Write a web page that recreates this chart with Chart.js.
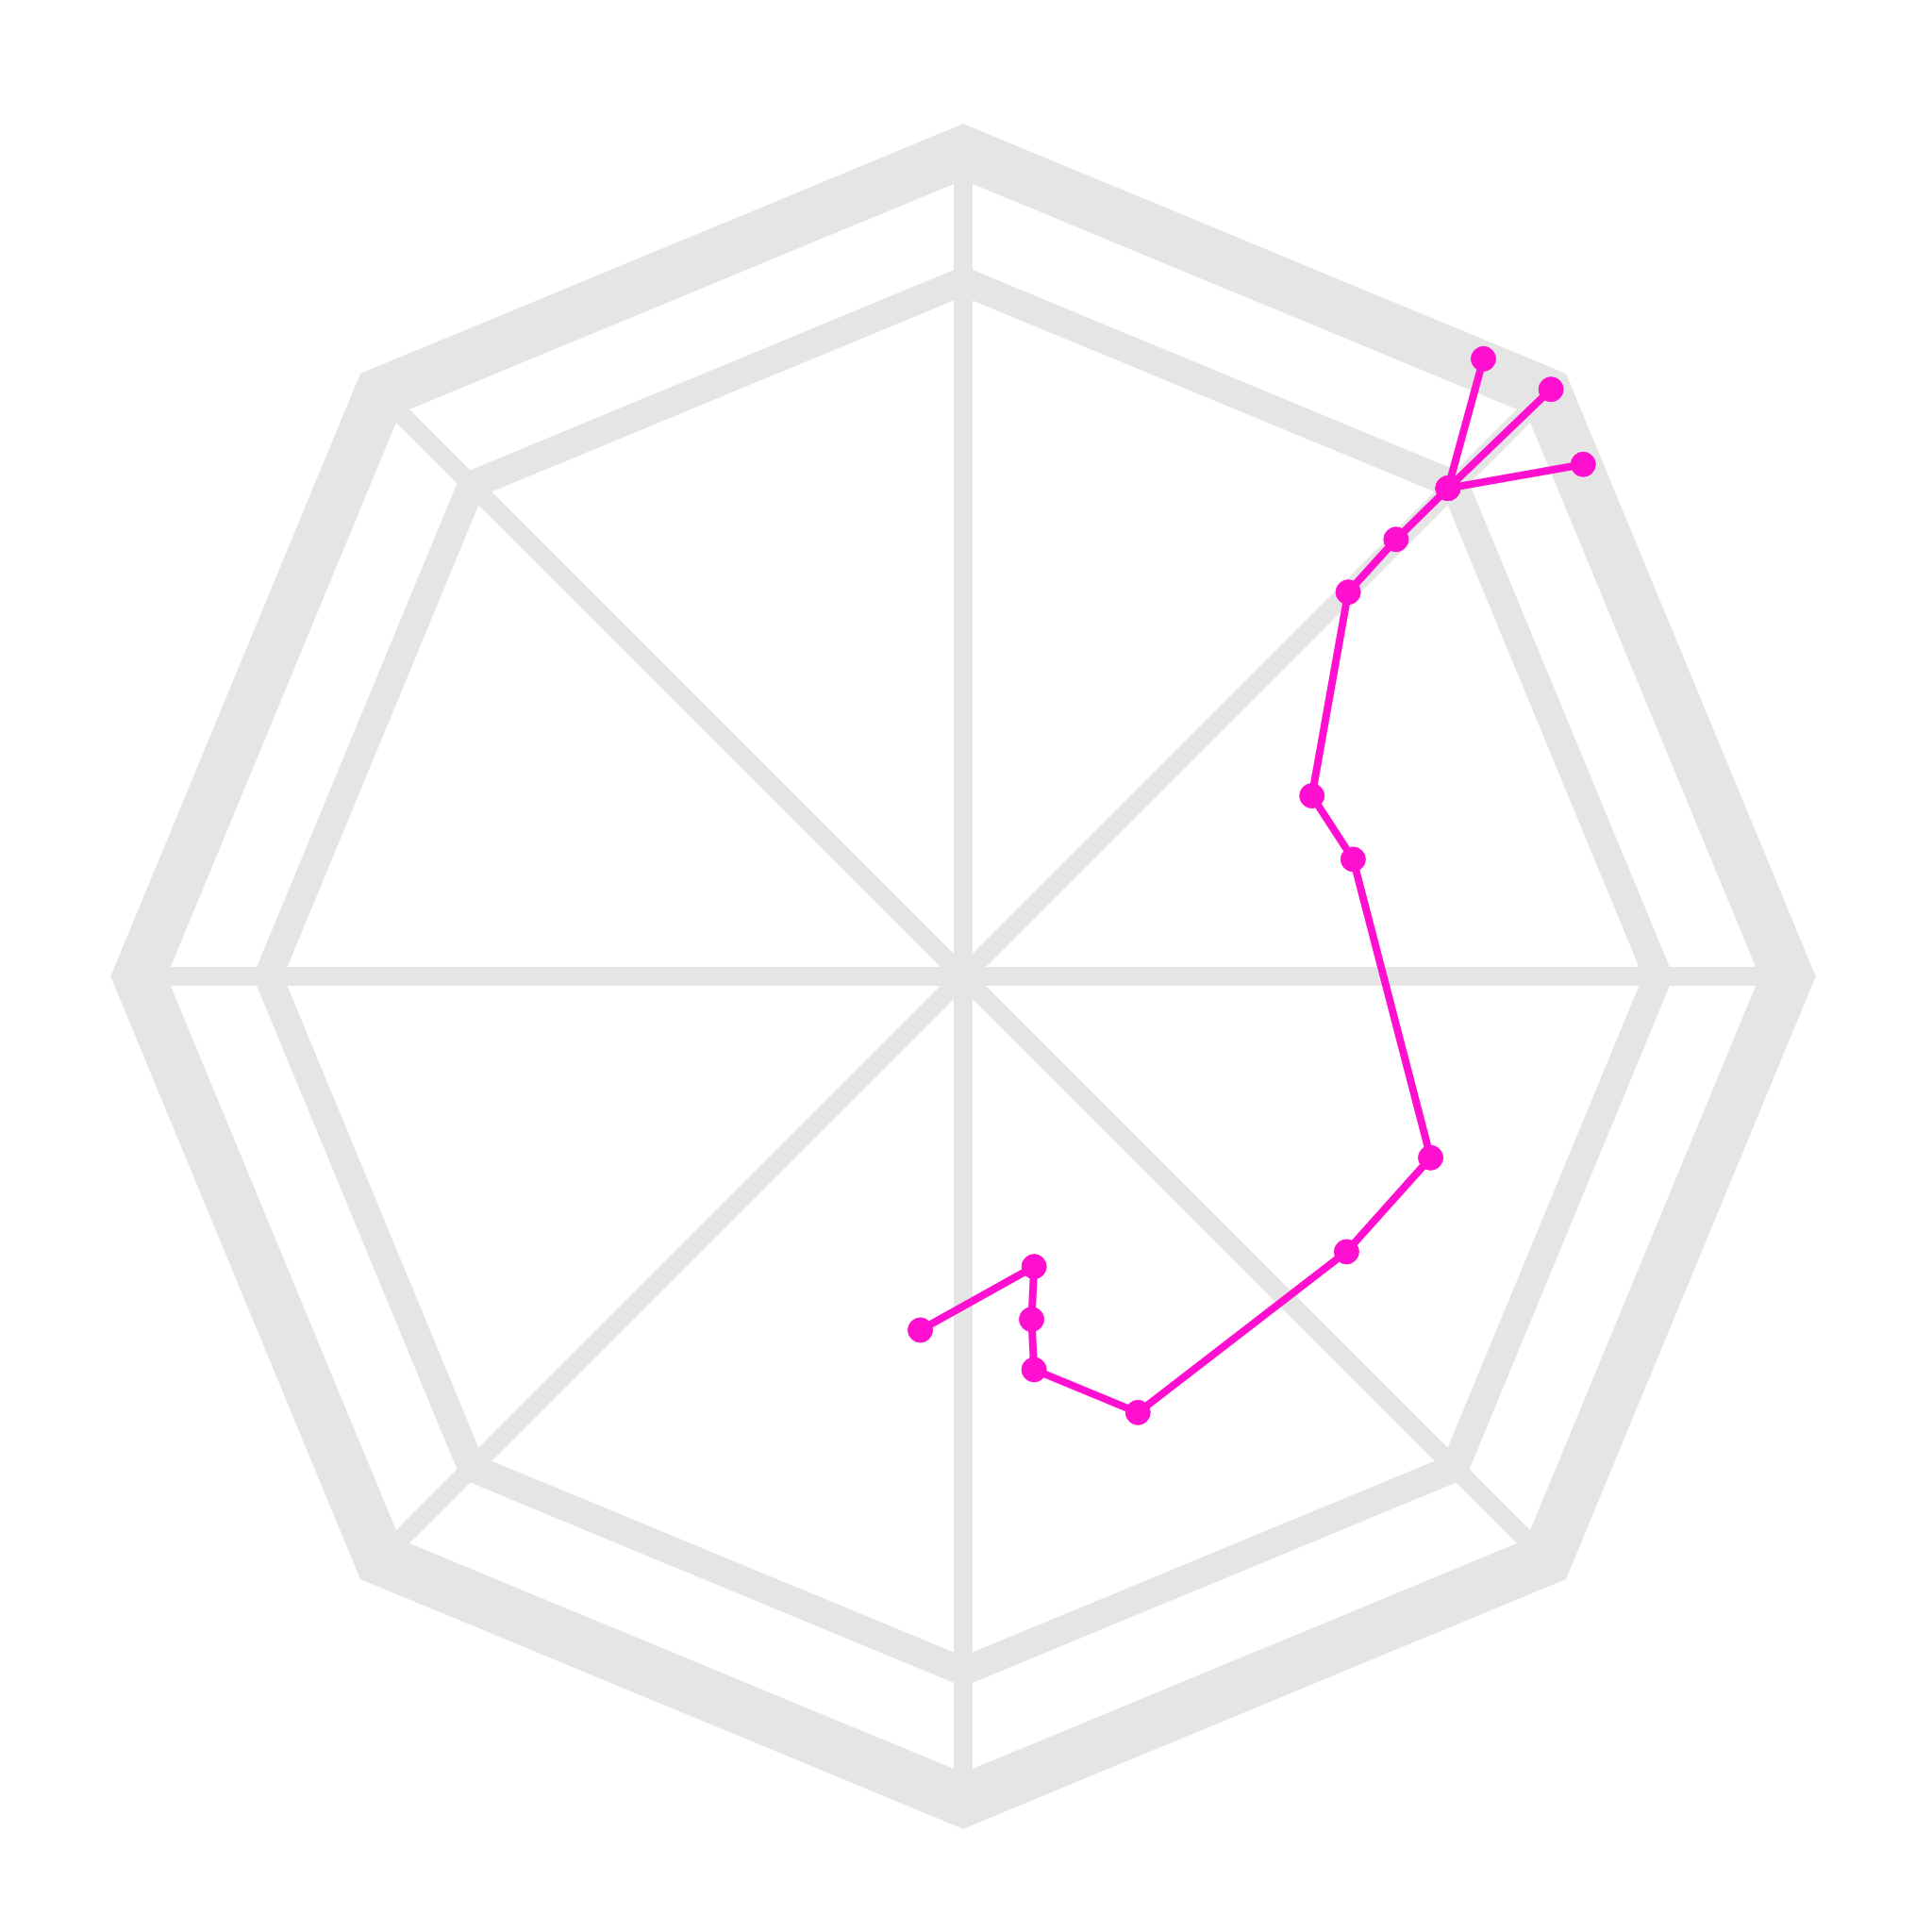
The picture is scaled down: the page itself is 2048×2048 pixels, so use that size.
<!DOCTYPE html>
<html>
<head>
<meta charset="utf-8">
<script src="https://cdn.jsdelivr.net/npm/chart.js@4"></script>
<style>
    html, body { margin: 0; padding: 0; background: #ffffff; }
</style>
</head>
<body>
<canvas id="myChart" width="2048" height="2048"></canvas>
<script>
// Eight spokes of the octagon frame, no label text on them
const spokes = ['', '', '', '', '', '', '', ''];

// Radial values that get a ring: centre, inner ring, outer frame
const ringValues = [0, 0.843, 1];

// The wandering path, same units as the rings (frame = 1)
const pathX = [-0.052, 0.086, 0.083, 0.086, 0.212, 0.465, 0.567, 0.473, 0.423, 0.467, 0.525, 0.588, 0.631, 0.588, 0.713, 0.588, 0.752];
const pathY = [-0.429, -0.352, -0.416, -0.477, -0.529, -0.334, -0.220, 0.142, 0.219, 0.466, 0.530, 0.592, 0.749, 0.592, 0.712, 0.592, 0.621];

const gridGrey = '#e5e5e5';
const magenta = '#ff10d0';

//Create the chart
function createChart() {
    const points = pathX.map((x, i) => ({ x: x, y: pathY[i] }));

    const ctx = document.getElementById('myChart').getContext('2d');
    new Chart(ctx, {
        type: 'scatter',
        data: {
            labels: spokes,
            datasets: [{
                label: 'path',
                data: points,
                showLine: true,
                borderColor: magenta,
                borderWidth: 8,
                borderCapStyle: 'round',
                borderJoinStyle: 'round',
                backgroundColor: magenta,
                pointBackgroundColor: magenta,
                pointBorderColor: magenta,
                pointBorderWidth: 1,
                pointRadius: 13,
                tension: 0,
                clip: false
            }]
        },
        options: {
            responsive: false,
            animation: false,
            layout: {
                padding: { left: 147, right: 153, top: 161, bottom: 139 }
            },
            plugins: {
                legend: { display: false },
                tooltip: { enabled: false }
            },
            scales: {
                x: { type: 'linear', min: -1, max: 1, display: false },
                y: { type: 'linear', min: -1, max: 1, display: false },
                r: {
                    type: 'radialLinear',
                    min: 0,
                    max: 1,
                    startAngle: 0,
                    afterBuildTicks: scale => {
                        scale.ticks = ringValues.map(v => ({ value: v }));
                    },
                    ticks: { display: false },
                    pointLabels: { display: false },
                    grid: {
                        color: gridGrey,
                        lineWidth: c => (c.index === ringValues.length - 1 ? 55 : 30)
                    },
                    angleLines: { color: gridGrey, lineWidth: 20 }
                }
            }
        }
    });
}

createChart();
</script>
</body>
</html>
